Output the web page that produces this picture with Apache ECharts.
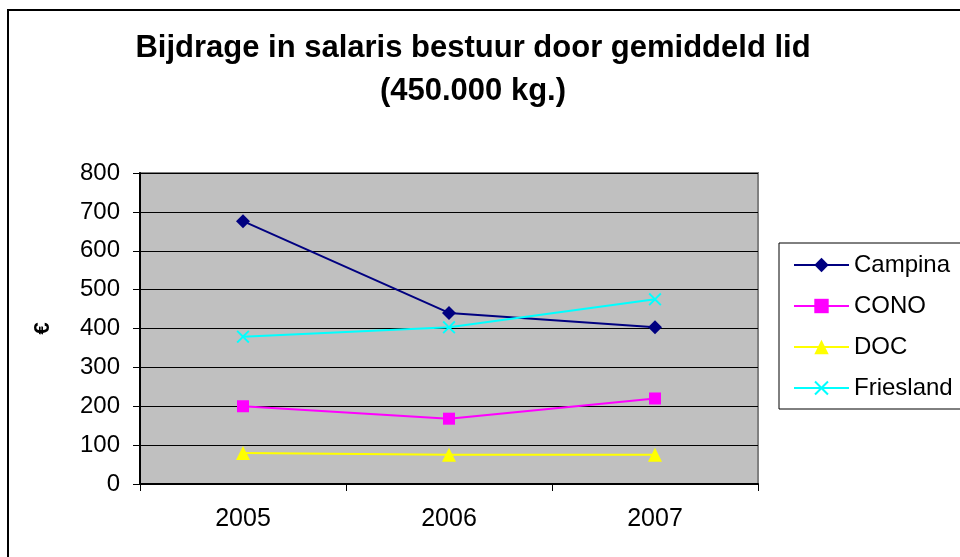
<!DOCTYPE html>
<html>
<head>
<meta charset="utf-8">
<script src="https://cdn.jsdelivr.net/npm/echarts@6/dist/echarts.min.js"></script>
<style>
  html, body { margin: 0; padding: 0; background: #fff; }
  #chart { width: 960px; height: 557px; }
</style>
</head>
<body>
<div id="chart"></div>
<script>
// data
const years = ['2005', '2006', '2007'];
const campina = [676, 440, 403];
const cono = [200, 168, 220];
const doc = [80, 75, 75];
const friesland = [379, 403, 475];

const crossPath = 'path://M0,1L1,0L5,4L9,0L10,1L6,5L10,9L9,10L5,6L1,10L0,9L4,5Z';

function lineSeries(name, data, color, symbol, size) {
    return {
        name: name,
        type: 'line',
        data: data,
        symbol: symbol,
        symbolSize: size,
        showAllSymbol: true,
        lineStyle: { color: color, width: 2 },
        itemStyle: { color: color, borderWidth: 0 },
        emphasis: { disabled: true },
        animation: false
    };
}

const chart = echarts.init(document.getElementById('chart'));
chart.setOption({
    backgroundColor: '#fff',
    textStyle: { fontFamily: 'Liberation Sans, Arial, sans-serif' },
    graphic: [{
        type: 'rect',
        shape: { x: 8, y: 10, width: 1000, height: 600 },
        style: { fill: 'none', stroke: '#000', lineWidth: 2 },
        z: -1
    }],
    title: {
        text: 'Bijdrage in salaris bestuur door gemiddeld lid\n(450.000 kg.)',
        left: 468,
        top: 22,
        textAlign: 'center',
        textStyle: {
            fontSize: 31,
            fontWeight: 'bold',
            color: '#000',
            lineHeight: 43,
            fontFamily: 'Liberation Sans, Arial, sans-serif'
        }
    },
    legend: {
        orient: 'vertical',
        left: 779,
        top: 243,
        itemWidth: 55,
        itemHeight: 18,
        itemGap: 17,
        padding: [10, 10, 9, 14],
        borderColor: '#000',
        borderWidth: 1,
        textStyle: { fontSize: 24, color: '#000' },
        data: ['Campina', 'CONO', 'DOC', 'Friesland']
    },
    grid: {
        left: 140,
        top: 173,
        right: 202,
        bottom: 73,
        show: true,
        backgroundColor: '#C0C0C0',
        borderColor: '#808080',
        borderWidth: 2,
        containLabel: false
    },
    xAxis: {
        type: 'category',
        data: years,
        boundaryGap: true,
        axisLine: { lineStyle: { color: '#000', width: 2 } },
        axisTick: { show: true, length: 7, lineStyle: { color: '#000' } },
        axisLabel: { fontSize: 25, color: '#000', margin: 23 }
    },
    yAxis: {
        type: 'value',
        min: 0,
        max: 800,
        interval: 100,
        name: '€',
        nameLocation: 'middle',
        nameGap: 86,
        nameRotate: 90,
        nameTextStyle: { fontSize: 22, fontWeight: 'bold', color: '#000' },
        axisLine: { show: true, lineStyle: { color: '#000', width: 2 } },
        axisTick: { show: true, length: 7, lineStyle: { color: '#000' } },
        axisLabel: { fontSize: 24, color: '#000', margin: 20 },
        splitLine: { lineStyle: { color: '#000', width: 1 } }
    },
    series: [
        lineSeries('Campina', campina, '#000080', 'diamond', 14),
        lineSeries('CONO', cono, '#FF00FF', 'rect', 12),
        lineSeries('DOC', doc, '#FFFF00', 'triangle', 14),
        lineSeries('Friesland', friesland, '#00FFFF', crossPath, 13)
    ]
});
</script>
</body>
</html>
